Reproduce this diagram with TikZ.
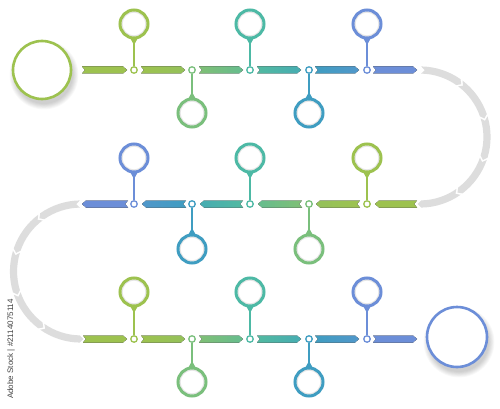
\documentclass[tikz,border=0pt]{standalone}
\usepackage{fontspec}
\setmainfont{Liberation Sans}
\usetikzlibrary{calc}
\definecolor{cYG}{HTML}{9DC24F}
\definecolor{cG}{HTML}{7ABF7C}
\definecolor{cT}{HTML}{4DB9A5}
\definecolor{cTB}{HTML}{3F9DC1}
\definecolor{cB}{HTML}{6C8ED8}
\definecolor{arcgray}{HTML}{DDDDDD}
\definecolor{textgray}{HTML}{444444}
\tikzset{
  dotnode/.style={circle, draw=#1, fill=white, line width=1.3pt, minimum size=6.5pt, inner sep=0pt},
  ringnode/.style={circle, draw=#1, fill=white, line width=3pt, minimum size=28pt, inner sep=0pt},
  bignode/.style={circle, draw=#1, fill=white, line width=2.6pt, minimum size=#1, inner sep=0pt},
  bigring/.style={circle, draw=#1, fill=white, line width=2.6pt, inner sep=0pt},
  stemline/.style={line width=1.3pt, draw=#1},
}
% right-pointing segment: xa, xb, y, left colour, right colour
\newcommand\segR[5]{%
  \fill[left color=#4, right color=#5] (#1,{#3-3.5}) -- ({#2-4},{#3-3.5}) -- (#2,#3) -- ({#2-4},{#3+3.5}) -- (#1,{#3+3.5}) -- ({#1+3},#3) -- cycle;}
% left-pointing segment: xa (tip), xb (tail), y, left colour, right colour
\newcommand\segL[5]{%
  \fill[left color=#4, right color=#5] (#1,#3) -- ({#1+4},{#3-3.5}) -- (#2,{#3-3.5}) -- ({#2-3},#3) -- (#2,{#3+3.5}) -- ({#1+4},{#3+3.5}) -- cycle;}
% pin: name, dot name, x, centre y, side (-1 above, 1 below), colour
\newcommand\mkpin[6]{%
  \fill[#6] ({#3-5},{#4-(#5)*12}) -- ({#3+5},{#4-(#5)*12}) -- (#3,{#4-(#5)*21}) -- cycle;
  \node[ringnode=#6] (#1) at (#3,#4) {};
  \draw[black, opacity=.10, line width=1pt] (#1.center) circle (11.9);
  \draw[stemline=#6] (#2) -- (#1);}
% segmented grey band, radius
\newcommand\grayband[1]{%
  \foreach \k in {0,...,4}{%
    \pgfmathsetmacro\ta{-90+36*\k+1}%
    \pgfmathsetmacro\tb{-90+36*(\k+1)-1}%
    \pgfmathsetmacro\tc{\tb+3}%
    \pgfmathsetmacro\td{\ta+3}%
    \pgfmathsetmacro\ro{#1+3.6}%
    \pgfmathsetmacro\ri{#1-3.6}%
    \fill[arcgray] (\ta:\ro) arc[start angle=\ta, end angle=\tb, radius=\ro] -- (\tc:#1) -- (\tb:\ri) arc[start angle=\tb, end angle=\ta, radius=\ri] -- (\td:#1) -- cycle;
  }}
\begin{document}
\begin{tikzpicture}[x=1pt, y=-1pt]
\useasboundingbox (0,0) rectangle (500,409);
\fill[white] (0,0) rectangle (500,409);

% grey bends
\begin{scope}[shift={(420,137)}]
  \grayband{67}
\end{scope}
\begin{scope}[shift={(81,271.5)}, xscale=-1]
  \grayband{67.5}
\end{scope}

% shadows of the big circles
\foreach \i in {0,...,6}{
  \fill[black, opacity=0.028] (44,75) circle ({29+\i*0.9});
  \fill[black, opacity=0.028] (459,342) circle ({30+\i*0.9});
}
\node[bigring=cYG, minimum size=58pt] (start) at (42,70) {};
\node[bigring=cB, minimum size=60pt] (finish) at (457,337) {};

% row 1
\segR{82}{127}{70}{cYG}{cYG}
\segR{141}{185}{70}{cYG}{cYG!75!cG}
\segR{199}{243}{70}{cG!85!cYG}{cG!55!cT}
\segR{257}{301}{70}{cT!90!cG}{cT!55!cTB}
\segR{315}{359}{70}{cTB}{cTB!60!cB}
\segR{373}{417}{70}{cB}{cB}
\node[dotnode=cYG] (a1) at (134,70) {};
\node[dotnode=cG]  (a2) at (192,70) {};
\node[dotnode=cT]  (a3) at (250,70) {};
\node[dotnode=cTB] (a4) at (309,70) {};
\node[dotnode=cB]  (a5) at (367,70) {};
\mkpin{pa1}{a1}{134}{24}{-1}{cYG}
\mkpin{pa2}{a2}{192}{113}{1}{cG}
\mkpin{pa3}{a3}{250}{24}{-1}{cT}
\mkpin{pa4}{a4}{309}{113}{1}{cTB}
\mkpin{pa5}{a5}{367}{24}{-1}{cB}

% row 2
\segL{82}{128}{204}{cB}{cB}
\segL{142}{186}{204}{cTB!60!cB}{cTB}
\segL{200}{243}{204}{cT!55!cTB}{cT!90!cG}
\segL{258}{302}{204}{cG!55!cT}{cG!85!cYG}
\segL{316}{360}{204}{cYG!75!cG}{cYG}
\segL{375}{417}{204}{cYG}{cYG}
\node[dotnode=cB]  (b1) at (134,204) {};
\node[dotnode=cTB] (b2) at (192,204) {};
\node[dotnode=cT]  (b3) at (250,204) {};
\node[dotnode=cG]  (b4) at (309,204) {};
\node[dotnode=cYG] (b5) at (367,204) {};
\mkpin{pb1}{b1}{134}{158}{-1}{cB}
\mkpin{pb2}{b2}{192}{249}{1}{cTB}
\mkpin{pb3}{b3}{250}{158}{-1}{cT}
\mkpin{pb4}{b4}{309}{249}{1}{cG}
\mkpin{pb5}{b5}{367}{158}{-1}{cYG}

% row 3
\segR{83}{127}{339}{cYG}{cYG}
\segR{141}{185}{339}{cYG}{cYG!75!cG}
\segR{199}{243}{339}{cG!85!cYG}{cG!55!cT}
\segR{257}{301}{339}{cT!90!cG}{cT!55!cTB}
\segR{315}{359}{339}{cTB}{cTB!60!cB}
\segR{373}{417}{339}{cB}{cB}
\node[dotnode=cYG] (c1) at (134,339) {};
\node[dotnode=cG]  (c2) at (192,339) {};
\node[dotnode=cT]  (c3) at (250,339) {};
\node[dotnode=cTB] (c4) at (309,339) {};
\node[dotnode=cB]  (c5) at (367,339) {};
\mkpin{pc1}{c1}{134}{292}{-1}{cYG}
\mkpin{pc2}{c2}{192}{382}{1}{cG}
\mkpin{pc3}{c3}{250}{292}{-1}{cT}
\mkpin{pc4}{c4}{309}{382}{1}{cTB}
\mkpin{pc5}{c5}{367}{292}{-1}{cB}

% vertical credit line
\node[rotate=90, font=\fontsize{8}{9}\selectfont, text=textgray, inner sep=0pt] (credit) at (11,349) {Adobe Stock | \#2114075114};
\end{tikzpicture}
\end{document}
